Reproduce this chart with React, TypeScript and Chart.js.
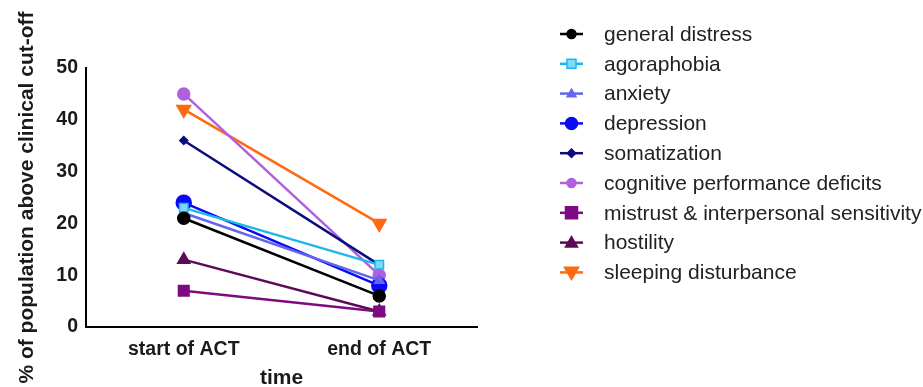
import React, { useEffect, useRef } from "react";
import { Chart, registerables } from "chart.js";

Chart.register(...registerables);

const categories = ["start of ACT", "end of ACT"];
const seriesNames = [
  "general distress",
  "agoraphobia",
  "anxiety",
  "depression",
  "somatization",
  "cognitive performance deficits",
  "mistrust & interpersonal sensitivity",
  "hostility",
  "sleeping disturbance",
];
const generalDistress = [21, 6];
const agoraphobia = [23, 12];
const anxiety = [22, 9];
const depression = [24, 8];
const somatization = [36, 12];
const cognitive = [45, 10];
const mistrust = [7, 3];
const hostility = [13, 3];
const sleeping = [42, 20];
const yTicks = [0, 10, 20, 30, 40, 50];

const seriesValues = [generalDistress, agoraphobia, anxiety, depression, somatization, cognitive, mistrust, hostility, sleeping];
const colors = ["#000000", "#1cb8ec", "#6464ee", "#0a0af5", "#0c0c80", "#b060de", "#7e0a82", "#5c0a58", "#ff6a10"];
const fills = ["#000000", "#7fd8f6", "#6464ee", "#0a0af5", "#0c0c80", "#b060de", "#7e0a82", "#5c0a58", "#ff6a10"];
const styles: any[] = ["circle", "rect", "triangle", "circle", "rectRot", "circle", "rect", "triangle", "triangle"];
const radii = [6, 6, 5.5, 7.5, 4, 6, 7.5, 7, 8];
const rotations = [0, 0, 0, 0, 0, 0, 0, 0, 180];

const FONT = "'Liberation Sans', Arial, sans-serif";

function drawPoint(ctx: any, style: string, r: number, x: number, y: number, rot: number) {
  ctx.beginPath();
  if (style === "circle") {
    ctx.arc(x, y, r, 0, Math.PI * 2);
  } else if (style === "rect") {
    ctx.rect(x - r, y - r, 2 * r, 2 * r);
  } else if (style === "rectRot") {
    ctx.moveTo(x, y - r * 1.2);
    ctx.lineTo(x + r * 1.2, y);
    ctx.lineTo(x, y + r * 1.2);
    ctx.lineTo(x - r * 1.2, y);
    ctx.closePath();
  } else if (style === "triangle") {
    const s = rot === 180 ? -1 : 1;
    ctx.moveTo(x, y - s * r * 1.1);
    ctx.lineTo(x + r * 1.1, y + s * r * 0.8);
    ctx.lineTo(x - r * 1.1, y + s * r * 0.8);
    ctx.closePath();
  }
  ctx.fill();
  ctx.stroke();
}

const legendPlugin = {
  id: "customLegend",
  afterDraw(chart: any) {
    const ctx = chart.ctx;
    ctx.save();
    const x0 = 560;
    const x1 = 583;
    const tx = 604;
    seriesNames.forEach((name, i) => {
      const y = 34 + i * 29.8;
      ctx.strokeStyle = colors[i];
      ctx.lineWidth = 2.5;
      ctx.beginPath();
      ctx.moveTo(x0, y);
      ctx.lineTo(x1, y);
      ctx.stroke();
      ctx.fillStyle = fills[i];
      ctx.strokeStyle = colors[i];
      ctx.lineWidth = 1.5;
      drawPoint(ctx, styles[i], Math.max(radii[i] - 1.5, 3.5), 571.5, y, rotations[i]);
      ctx.fillStyle = "#222222";
      ctx.font = `21px ${FONT}`;
      ctx.textBaseline = "middle";
      ctx.textAlign = "left";
      ctx.fillText(name, tx, y + 1);
    });
    ctx.restore();
  },
};

export default function App() {
  const ref = useRef<HTMLCanvasElement>(null);
  useEffect(() => {
    if (!ref.current) return;
    const chart = new Chart(ref.current, {
      type: "line",
      data: {
        labels: categories,
        datasets: seriesNames.map((name, i) => ({
          label: name,
          data: seriesValues[i],
          borderColor: colors[i],
          backgroundColor: fills[i],
          pointBackgroundColor: fills[i],
          pointBorderColor: colors[i],
          pointBorderWidth: 1.5,
          borderWidth: 2.5,
          pointStyle: styles[i],
          pointRadius: radii[i],
          pointRotation: rotations[i],
          fill: false,
          tension: 0,
        })),
      },
      options: {
        animation: false,
        responsive: false,
        layout: { padding: { top: 68, right: 446, bottom: 0, left: 0 } },
        plugins: { legend: { display: false }, tooltip: { enabled: false } },
        scales: {
          x: {
            offset: true,
            grid: { display: false, drawTicks: true, tickLength: 6, color: "#000", tickWidth: 2 } as any,
            border: { color: "#000", width: 2 },
            ticks: {
              color: "#1a1a1a",
              font: { family: FONT, size: 19.5, weight: "bold" },
              padding: 5,
            },
            title: {
              display: true,
              text: "time",
              color: "#1a1a1a",
              font: { family: FONT, size: 21, weight: "bold" },
              padding: { top: 0, bottom: -4 },
            },
            afterFit(scale: any) {
              scale.height = 60;
            },
          },
          y: {
            min: 0,
            max: 50,
            afterBuildTicks(scale: any) {
              scale.ticks = yTicks.map((v) => ({ value: v }));
            },
            grid: { display: false, drawTicks: true, tickLength: 5, color: "#000", tickWidth: 2 } as any,
            border: { color: "#000", width: 2 },
            ticks: {
              color: "#1a1a1a",
              font: { family: FONT, size: 19.5, weight: "bold" },
              padding: 3,
            },
            title: {
              display: true,
              text: "% of population above clinical cut-off",
              color: "#1a1a1a",
              font: { family: FONT, size: 21, weight: "bold" },
              padding: { top: 15, bottom: 0 },
            },
            afterFit(scale: any) {
              scale.width = 86;
            },
          },
        },
      },
      plugins: [legendPlugin],
    } as any);
    return () => chart.destroy();
  }, []);
  return (
    <div style={{ position: "fixed", left: 0, top: 0, width: 923, height: 387, background: "#fff" }}>
      <canvas ref={ref} width={923} height={387} style={{ display: "block" }} />
    </div>
  );
}
